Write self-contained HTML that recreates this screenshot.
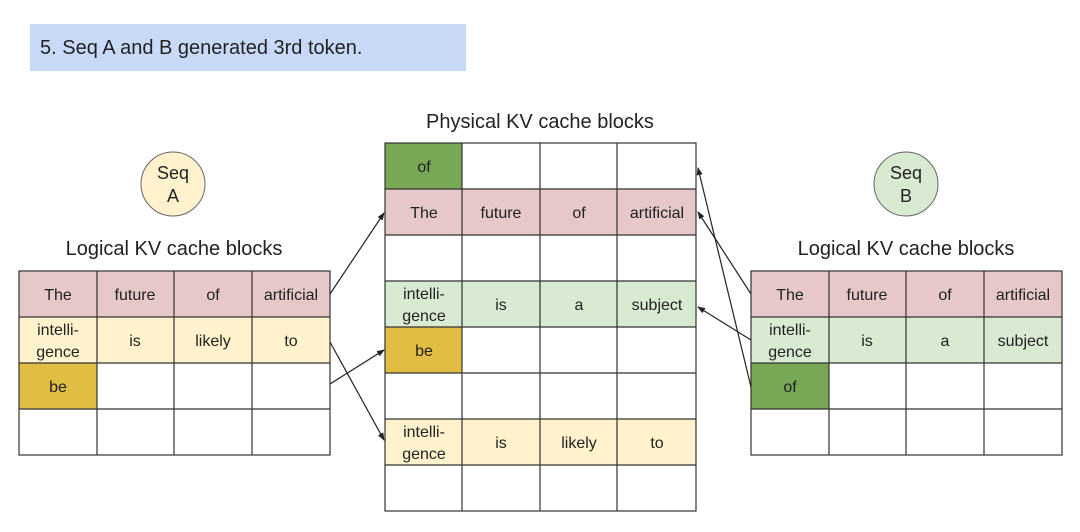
<!DOCTYPE html>
<html><head><meta charset="utf-8"><style>
html,body{margin:0;padding:0;background:#fff;}
svg{display:block;font-family:"Liberation Sans",Arial,sans-serif;}
</style></head><body>
<svg width="1080" height="532" viewBox="0 0 1080 532" xmlns="http://www.w3.org/2000/svg">
<defs><marker id="ah" markerWidth="8" markerHeight="8" refX="7" refY="4" orient="auto" markerUnits="userSpaceOnUse"><path d="M0,1 L8,4 L0,7 z" fill="#222"/></marker></defs>
<rect x="30" y="24" width="436" height="47" fill="#c9daf8"/>
<text x="40" y="54" font-size="20" fill="#222">5. Seq A and B generated 3rd token.</text>
<text x="540" y="128" font-size="20" text-anchor="middle" fill="#222">Physical KV cache blocks</text>
<text x="174" y="255" font-size="20" text-anchor="middle" fill="#222">Logical KV cache blocks</text>
<text x="906" y="255" font-size="20" text-anchor="middle" fill="#222">Logical KV cache blocks</text>
<circle cx="173" cy="184" r="32" fill="#fff2cc" stroke="#666"/>
<text x="173" y="179" font-size="18" text-anchor="middle" fill="#222">Seq</text>
<text x="173" y="202" font-size="18" text-anchor="middle" fill="#222">A</text>
<circle cx="906" cy="184" r="32" fill="#d9ead3" stroke="#666"/>
<text x="906" y="179" font-size="18" text-anchor="middle" fill="#222">Seq</text>
<text x="906" y="202" font-size="18" text-anchor="middle" fill="#222">B</text>
<g font-size="16" fill="#222" text-anchor="middle" stroke-width="1.2">
<rect x="19" y="271" width="311" height="46" fill="#e6c8c8"/>
<rect x="19" y="317" width="311" height="46" fill="#fff2cc"/>
<rect x="19" y="363" width="78" height="46" fill="#e1bd43"/>
<g stroke="#333" fill="none"><rect x="19" y="271" width="311" height="184"/>
<path d="M97 271V455M174 271V455M252 271V455M19 317H330M19 363H330M19 409H330"/></g>
<text x="58" y="300">The</text><text x="135" y="300">future</text><text x="213" y="300">of</text><text x="291" y="300">artificial</text>
<text x="58" y="335">intelli-</text><text x="58" y="357">gence</text><text x="135" y="346">is</text><text x="213" y="346">likely</text><text x="291" y="346">to</text>
<text x="58" y="392">be</text>
<rect x="751" y="271" width="311" height="46" fill="#e6c8c8"/>
<rect x="751" y="317" width="311" height="46" fill="#d9ead3"/>
<rect x="751" y="363" width="78" height="46" fill="#78a756"/>
<g stroke="#333" fill="none"><rect x="751" y="271" width="311" height="184"/>
<path d="M829 271V455M906 271V455M984 271V455M751 317H1062M751 363H1062M751 409H1062"/></g>
<text x="790" y="300">The</text><text x="867" y="300">future</text><text x="945" y="300">of</text><text x="1023" y="300">artificial</text>
<text x="790" y="335">intelli-</text><text x="790" y="357">gence</text><text x="867" y="346">is</text><text x="945" y="346">a</text><text x="1023" y="346">subject</text>
<text x="790" y="392">of</text>
<rect x="385" y="143" width="77" height="46" fill="#78a756"/>
<rect x="385" y="189" width="311" height="46" fill="#e6c8c8"/>
<rect x="385" y="281" width="311" height="46" fill="#d9ead3"/>
<rect x="385" y="327" width="77" height="46" fill="#e1bd43"/>
<rect x="385" y="419" width="311" height="46" fill="#fff2cc"/>
<g stroke="#333" fill="none"><rect x="385" y="143" width="311" height="368"/>
<path d="M462 143V511M540 143V511M617 143V511M385 189H696M385 235H696M385 281H696M385 327H696M385 373H696M385 419H696M385 465H696"/></g>
<text x="424" y="172">of</text>
<text x="424" y="218">The</text><text x="501" y="218">future</text><text x="579" y="218">of</text><text x="657" y="218">artificial</text>
<text x="424" y="299">intelli-</text><text x="424" y="321">gence</text><text x="501" y="310">is</text><text x="579" y="310">a</text><text x="657" y="310">subject</text>
<text x="424" y="356">be</text>
<text x="424" y="437">intelli-</text><text x="424" y="459">gence</text><text x="501" y="448">is</text><text x="579" y="448">likely</text><text x="657" y="448">to</text>
</g>
<g stroke="#222" stroke-width="1.2" fill="none" marker-end="url(#ah)">
<line x1="330" y1="294" x2="384" y2="213"/>
<line x1="330" y1="342" x2="384" y2="440"/>
<line x1="330" y1="384" x2="384" y2="350"/>
<line x1="751" y1="294" x2="698" y2="212"/>
<line x1="751" y1="340" x2="698" y2="307"/>
<line x1="751" y1="387" x2="698" y2="168"/>
</g>
</svg>
</body></html>
